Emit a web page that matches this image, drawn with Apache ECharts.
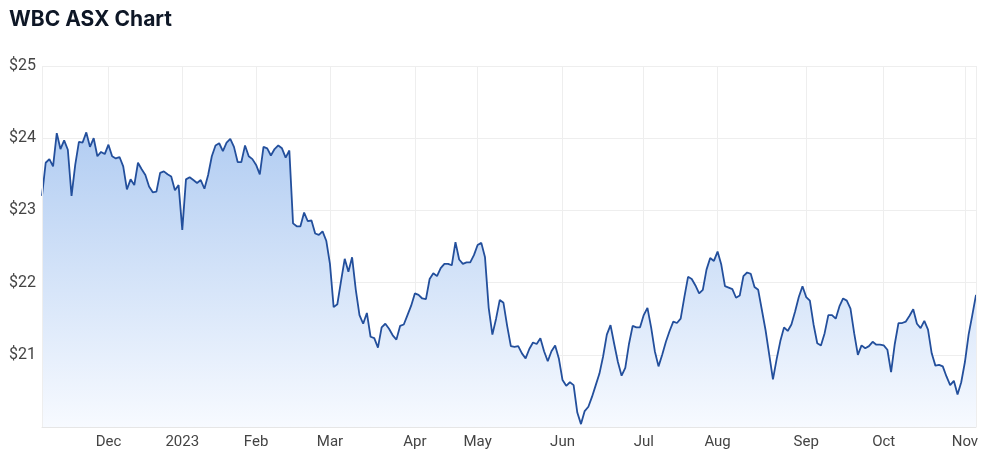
<!DOCTYPE html>
<html>
<head>
<meta charset="utf-8">
<script src="https://cdn.jsdelivr.net/npm/echarts@6/dist/echarts.min.js"></script>
<style>
  html, body { margin: 0; padding: 0; background: #fff; }
  #chart { width: 1000px; height: 456px; }
</style>
</head>
<body>
<div id="chart"></div>
<script>
// daily closing prices (one per trading day)
var prices = [
  23.20, 23.66, 23.71, 23.61, 24.07, 23.85, 23.97, 23.84, 23.20, 23.63,
  23.95, 23.94, 24.08, 23.88, 24.00, 23.75, 23.81, 23.78, 23.91, 23.75,
  23.72, 23.74, 23.61, 23.29, 23.43, 23.35, 23.66, 23.57, 23.49, 23.33,
  23.25, 23.26, 23.52, 23.54, 23.50, 23.47, 23.28, 23.35, 22.73, 23.43,
  23.46, 23.42, 23.38, 23.42, 23.30, 23.49, 23.75, 23.90, 23.93, 23.82,
  23.94, 23.99, 23.88, 23.67, 23.67, 23.90, 23.75, 23.71, 23.63, 23.50,
  23.88, 23.86, 23.76, 23.85, 23.90, 23.86, 23.73, 23.83, 22.82, 22.78,
  22.78, 22.97, 22.85, 22.86, 22.68, 22.66, 22.71, 22.58, 22.26, 21.66,
  21.70, 22.02, 22.33, 22.15, 22.35, 21.90, 21.55, 21.43, 21.58, 21.25,
  21.23, 21.10, 21.38, 21.43, 21.36, 21.27, 21.21, 21.40, 21.42, 21.55,
  21.68, 21.85, 21.83, 21.78, 21.77, 22.05, 22.13, 22.09, 22.20, 22.26,
  22.26, 22.24, 22.56, 22.32, 22.26, 22.28, 22.28, 22.38, 22.52, 22.55,
  22.35, 21.65, 21.28, 21.50, 21.76, 21.72, 21.40, 21.12, 21.11, 21.12,
  21.02, 20.95, 21.08, 21.17, 21.15, 21.23, 21.05, 20.91, 21.05, 21.13,
  20.95, 20.65, 20.57, 20.62, 20.58, 20.20, 20.04, 20.22, 20.28, 20.42,
  20.58, 20.74, 20.98, 21.28, 21.41, 21.15, 20.90, 20.71, 20.82, 21.15,
  21.40, 21.38, 21.38, 21.55, 21.65, 21.38, 21.05, 20.84, 21.00, 21.18,
  21.33, 21.46, 21.44, 21.50, 21.80, 22.08, 22.05, 21.96, 21.85, 21.90,
  22.18, 22.34, 22.30, 22.43, 22.25, 21.95, 21.93, 21.91, 21.79, 21.82,
  22.09, 22.14, 22.12, 21.94, 21.90, 21.62, 21.34, 21.00, 20.66, 20.94,
  21.19, 21.38, 21.33, 21.42, 21.60, 21.80, 21.95, 21.80, 21.75, 21.42,
  21.16, 21.13, 21.30, 21.55, 21.55, 21.50, 21.67, 21.78, 21.75, 21.64,
  21.30, 21.00, 21.13, 21.09, 21.12, 21.18, 21.14, 21.14, 21.13, 21.07,
  20.76, 21.15, 21.44, 21.44, 21.46, 21.54, 21.63, 21.43, 21.37, 21.47,
  21.35, 21.02, 20.85, 20.86, 20.84, 20.70, 20.58, 20.64, 20.45, 20.62,
  20.90, 21.28, 21.55, 21.83
];

// month labels and the trading-day index where each month starts
var monthLabels = ['Dec', '2023', 'Feb', 'Mar', 'Apr', 'May', 'Jun', 'Jul', 'Aug', 'Sep', 'Oct', 'Nov'];
var monthStart = [18, 38, 58, 78, 101, 118, 141, 163, 183, 207, 228, 250];

var days = prices.map(function (p, i) { return i; });

function isMonthStart(idx) {
  return monthStart.indexOf(idx) !== -1;
}

var myChart = echarts.init(document.getElementById('chart'));

var option = {
  animation: false,
  title: {
    text: 'WBC ASX Chart',
    left: 4,
    top: 4,
    textStyle: {
      fontFamily: 'Inter, "Noto Sans", sans-serif',
      fontSize: 21,
      fontWeight: 'bold',
      color: '#0e1726'
    }
  },
  grid: {
    left: 42,
    right: 24,
    top: 66,
    bottom: 29
  },
  xAxis: {
    type: 'category',
    data: days,
    boundaryGap: false,
    axisLine: { show: true, lineStyle: { color: '#e6e6e6' } },
    axisTick: { show: false },
    axisLabel: {
      interval: function (idx) { return isMonthStart(idx); },
      formatter: function (v, idx) {
        var k = monthStart.indexOf(idx);
        return k === -1 ? '' : monthLabels[k];
      },
      color: '#444',
      fontSize: 15,
      fontFamily: 'Roboto, sans-serif',
      margin: 8
    },
    splitLine: {
      show: true,
      interval: function (idx) { return isMonthStart(idx); },
      lineStyle: { color: '#eeeeee' }
    }
  },
  yAxis: {
    type: 'value',
    min: 20,
    max: 25,
    interval: 1,
    axisLine: { show: false },
    axisTick: { show: false },
    axisLabel: {
      formatter: '${value}',
      showMinLabel: false,
      color: '#444',
      fontSize: 16,
      fontFamily: 'Roboto, sans-serif',
      margin: 6
    },
    splitLine: { lineStyle: { color: '#eeeeee' } }
  },
  series: [
    {
      type: 'line',
      data: prices,
      showSymbol: false,
      lineStyle: { color: '#234f9c', width: 1.8 },
      areaStyle: {
        opacity: 1,
        color: new echarts.graphic.LinearGradient(0, 0, 0, 1, [
          { offset: 0, color: '#b2cdf2' },
          { offset: 1, color: '#f7faff' }
        ])
      },
      markLine: {
        silent: true,
        symbol: 'none',
        label: { show: false },
        lineStyle: { color: '#eeeeee', type: 'solid', width: 1 },
        data: [{ xAxis: 0 }, { xAxis: prices.length - 1 }]
      }
    }
  ]
};

option && myChart.setOption(option);
</script>
</body>
</html>
